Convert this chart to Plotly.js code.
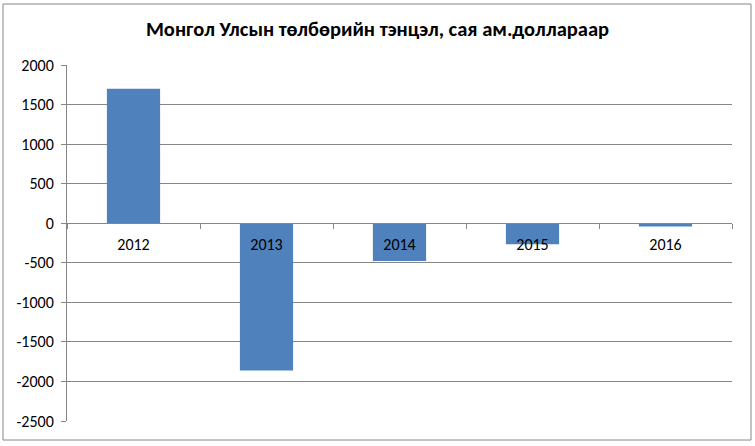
<!DOCTYPE html>
<html>
<head>
<meta charset="utf-8">
<script src="https://cdn.plot.ly/plotly-3.0.1.min.js"></script>
<style>html,body{margin:0;padding:0;background:#fff;}#chart{width:755px;height:446px;}</style>
</head>
<body>
<div id="chart"></div>
<script>
const years = ['2012', '2013', '2014', '2015', '2016'];
const balance = [1700, -1863, -477, -265, -43];
const yTicks = [-2500, -2000, -1500, -1000, -500, 0, 500, 1000, 1500, 2000];
const titleText = 'Монгол Улсын төлбөрийн тэнцэл, сая ам.доллараар';

const yMin = -2500, yMax = 2000;
const fontFam = 'Carlito, Calibri, "Open Sans", sans-serif';

Plotly.newPlot('chart', [{
  type: 'bar',
  x: years,
  y: balance,
  marker: {color: '#4F81BD'},
  hoverinfo: 'x+y'
}], {
  width: 755, height: 446,
  margin: {l: 67, r: 23, t: 65, b: 25},
  paper_bgcolor: '#fff', plot_bgcolor: '#fff',
  bargap: 0.6,
  showlegend: false,
  font: {family: fontFam, size: 16, color: '#000'},
  title: {text: '<b>' + titleText + '</b>', x: 0.5, xanchor: 'center', y: 0.935, yanchor: 'middle',
          font: {family: fontFam, size: 20.5, color: '#000'}},
  xaxis: {
    type: 'category',
    anchor: 'free',
    position: (0 - yMin) / (yMax - yMin),
    showline: true, linecolor: '#868686', linewidth: 1,
    ticks: 'outside', ticklen: 5, tickcolor: '#868686',
    tickson: 'boundaries',
    ticklabelstandoff: 7,
    showgrid: false, zeroline: false,
    tickfont: {family: fontFam, size: 16, color: '#000'},
    fixedrange: true
  },
  yaxis: {
    range: [yMin, yMax],
    tickvals: yTicks,
    ticktext: yTicks.map(String),
    showline: true, linecolor: '#868686', linewidth: 1,
    ticks: 'outside', ticklen: 5, tickcolor: '#868686',
    ticklabelstandoff: 4,
    showgrid: true, gridcolor: '#868686', gridwidth: 1,
    zeroline: false,
    tickfont: {family: fontFam, size: 16, color: '#000'},
    fixedrange: true
  },
  shapes: [{
    type: 'rect', xref: 'paper', yref: 'paper',
    x0: -64/665, x1: 1 + 19/665, y0: -19/356, y1: 1 + 61/356,
    line: {color: '#868686', width: 1}, fillcolor: 'rgba(0,0,0,0)', layer: 'below'
  }]
}, {displayModeBar: false, staticPlot: true});
</script>
</body>
</html>
